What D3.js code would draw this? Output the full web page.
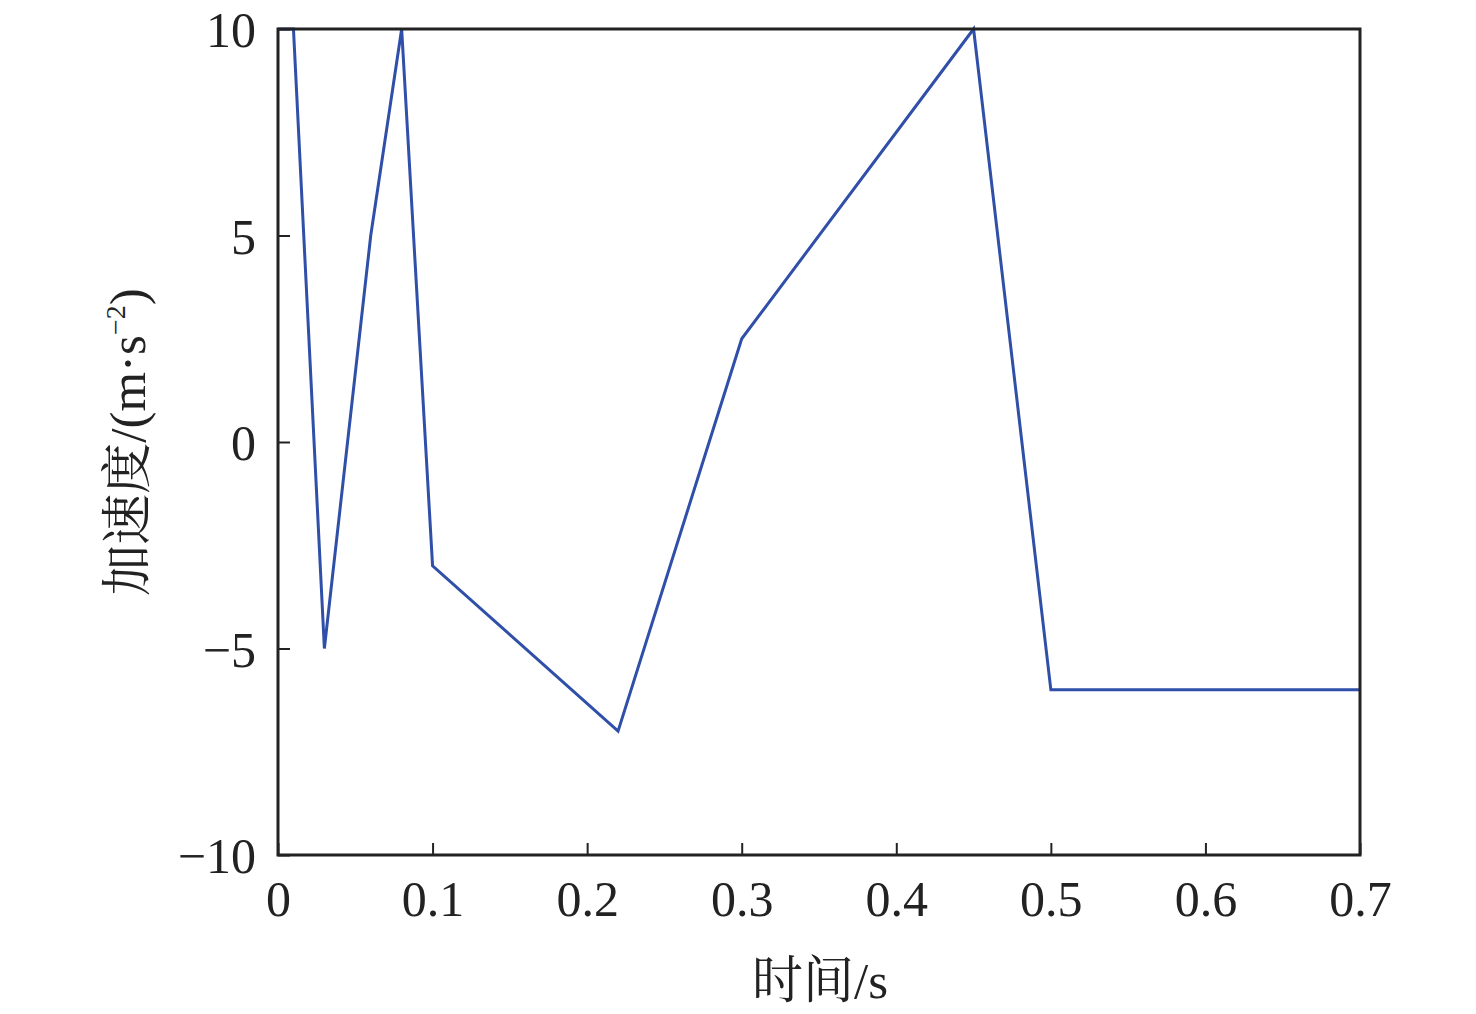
<!DOCTYPE html>
<html><head><meta charset="utf-8">
<script src="https://cdn.jsdelivr.net/npm/d3@7"></script>
<style>body{margin:0;background:#fff}</style>
</head><body>
<svg id="c" width="1476" height="1014"></svg>
<script>
const timeValues = [0, 0.01, 0.03, 0.06, 0.08, 0.1, 0.22, 0.3, 0.45, 0.5, 0.7];
const accelValues = [10, 10, -5, 5, 10, -3, -7, 2.5, 10, -6, -6];
const xTicks = [0, 0.1, 0.2, 0.3, 0.4, 0.5, 0.6, 0.7];
const yTicks = [-10, -5, 0, 5, 10];
const xTitle = "时间/s";

const svg = d3.select("#c");
const m = {l: 278, r: 1360, t: 29, b: 855};
const x = d3.scaleLinear().domain([0, 0.7]).range([m.l, m.r]);
const y = d3.scaleLinear().domain([-10, 10]).range([m.b, m.t]);
const font = "'Liberation Serif','Times New Roman',serif";
const cjk = "'Liberation Serif','Noto Serif CJK SC','Noto Sans CJK SC',serif";

const xAxis = d3.axisBottom(x).tickValues(xTicks).tickSizeInner(-12).tickSizeOuter(0)
  .tickFormat(d => d === 0 ? "0" : d3.format(".1f")(d)).tickPadding(26);
const gx = svg.append("g").attr("transform", `translate(0,${m.b})`).call(xAxis);
const yAxis = d3.axisLeft(y).tickValues(yTicks).tickSizeInner(-12).tickSizeOuter(0)
  .tickFormat(d => d < 0 ? "\u2212" + Math.abs(d) : String(d)).tickPadding(22);
const gy = svg.append("g").attr("transform", `translate(${m.l},0)`).call(yAxis);
[gx, gy].forEach(g => {
  g.select(".domain").remove();
  g.selectAll("line").attr("stroke", "#222").attr("stroke-width", 2);
  g.selectAll("text").attr("font-family", font).attr("font-size", 50).attr("fill", "#222");
});
gx.selectAll("text").attr("dy", "0.7em");
gy.selectAll("text").attr("dy", "0.35em");

const data = timeValues.map((t, i) => [t, accelValues[i]]);
svg.append("path").datum(data)
  .attr("d", d3.line().x(d => x(d[0])).y(d => y(d[1])))
  .attr("fill", "none").attr("stroke", "#2f4fa8").attr("stroke-width", 3).attr("stroke-linejoin", "miter");

svg.append("rect").attr("x", m.l).attr("y", m.t).attr("width", m.r - m.l).attr("height", m.b - m.t)
  .attr("fill", "none").attr("stroke", "#222").attr("stroke-width", 3);

svg.append("text").attr("x", (m.l + m.r) / 2 + 1).attr("y", 998)
  .attr("text-anchor", "middle").attr("font-family", cjk).attr("font-size", 51).attr("fill", "#222")
  .text(xTitle);

const yt = svg.append("text").attr("transform", `translate(145,442) rotate(-90)`)
  .attr("text-anchor", "middle").attr("font-family", cjk).attr("font-size", 51).attr("fill", "#222");
yt.append("tspan").text("加速度/(m·s");
yt.append("tspan").attr("font-size", 28).attr("dy", -20).text("\u22122");
yt.append("tspan").attr("dy", 20).text(")");
</script>
</body></html>
